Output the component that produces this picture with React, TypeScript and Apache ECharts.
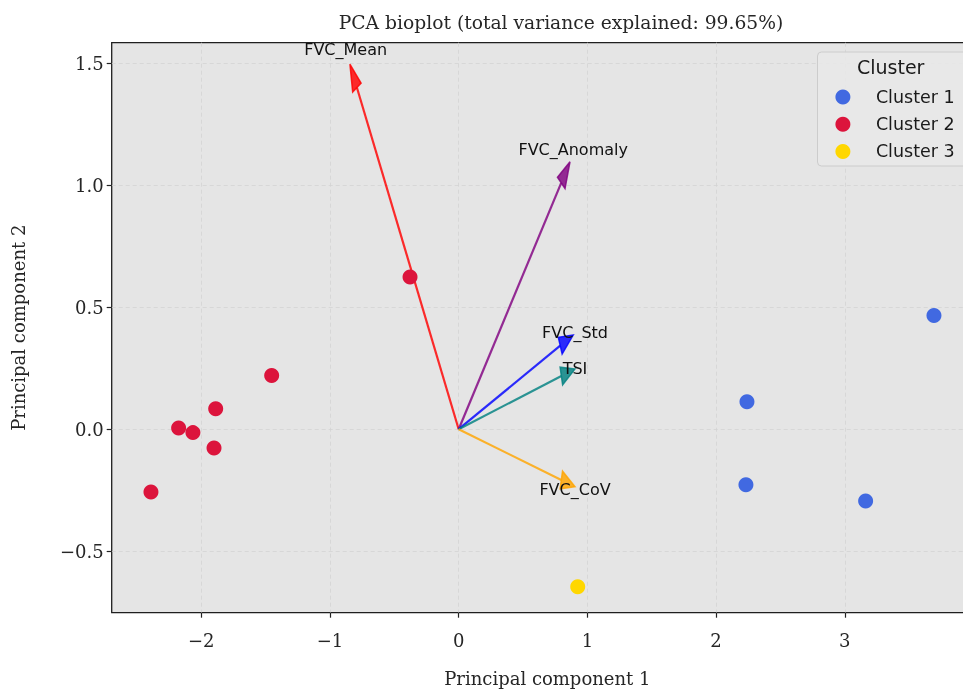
import React, { useEffect, useRef } from "react";
import * as echarts from "echarts";

const chartTitle = "PCA bioplot (total variance explained: 99.65%)";
const xAxisTitle = "Principal component 1";
const yAxisTitle = "Principal component 2";
const legendTitle = "Cluster";

const clusterNames = ["Cluster 1", "Cluster 2", "Cluster 3"];
const clusterColors = ["#4169e1", "#dc143c", "#ffd700"];

const cluster1PC1 = [3.693, 2.24, 2.232, 3.162];
const cluster1PC2 = [0.466, 0.113, -0.228, -0.294];
const cluster2PC1 = [-0.378, -1.453, -1.888, -2.176, -2.065, -1.901, -2.391];
const cluster2PC2 = [0.624, 0.22, 0.084, 0.005, -0.014, -0.077, -0.257];
const cluster3PC1 = [0.925];
const cluster3PC2 = [-0.646];

const loadingNames = ["FVC_Mean", "FVC_Anomaly", "FVC_Std", "TSI", "FVC_CoV"];
const loadingPC1 = [-0.845, 0.865, 0.89, 0.904, 0.904];
const loadingPC2 = [1.496, 1.096, 0.386, 0.247, -0.236];
const labelPC1 = [-0.878, 0.89, 0.904, 0.904, 0.904];
const labelPC2 = [1.558, 1.145, 0.396, 0.247, -0.246];
const loadingColors = ["#ff0000", "#800080", "#0000ff", "#008080", "#ffa500"];

const xTicks = [-2, -1, 0, 1, 2, 3];
const yTicks = [-0.5, 0, 0.5, 1, 1.5];

const HEAD_LEN = 0.11;
const HEAD_WIDTH = 0.075;

const serif = "DejaVu Serif";
const sans = "DejaVu Sans";

const fmtX = (v: number) => (v < 0 ? "\u2212" : "") + Math.abs(v).toString();
const fmtY = (v: number) => (v < 0 ? "\u2212" : "") + Math.abs(v).toFixed(1);

export default function App() {
  const ref = useRef<HTMLDivElement>(null);
  useEffect(() => {
    if (!ref.current) return;
    const chart = echarts.init(ref.current, undefined, { renderer: "svg" });
    const clusters = [
      [cluster1PC1, cluster1PC2],
      [cluster2PC1, cluster2PC2],
      [cluster3PC1, cluster3PC2],
    ];
    const scatterSeries = clusters.map(([xs, ys], k) => ({
      type: "scatter",
      name: clusterNames[k],
      data: xs.map((x, i) => [x, ys[i]]),
      symbolSize: 15,
      itemStyle: { color: clusterColors[k], opacity: 1 },
      z: 4,
    }));
    const arrowSeries = {
      type: "custom",
      name: "loadings",
      z: 3,
      data: loadingNames.map((n, i) => ({
        name: n,
        value: [loadingPC1[i], loadingPC2[i], labelPC1[i], labelPC2[i]],
      })),
      renderItem: (params: any, api: any) => {
        const i = params.dataIndex;
        const tx = api.value(0);
        const ty = api.value(1);
        const lx = api.value(2);
        const ly = api.value(3);
        const color = loadingColors[i];
        const len = Math.hypot(tx, ty);
        const ux = tx / len;
        const uy = ty / len;
        const bx = tx - HEAD_LEN * ux;
        const by = ty - HEAD_LEN * uy;
        const hw = HEAD_WIDTH / 2;
        const o = api.coord([0, 0]);
        const b = api.coord([bx, by]);
        const t = api.coord([tx, ty]);
        const c1 = api.coord([bx - hw * uy, by + hw * ux]);
        const c2 = api.coord([bx + hw * uy, by - hw * ux]);
        const lp = api.coord([lx, ly]);
        return {
          type: "group",
          children: [
            {
              type: "line",
              shape: { x1: o[0], y1: o[1], x2: b[0], y2: b[1] },
              style: { stroke: color, lineWidth: 2.2, opacity: 0.82 },
            },
            {
              type: "polygon",
              shape: { points: [t, c1, c2] },
              style: { fill: color, stroke: color, lineWidth: 1.5, opacity: 0.82, lineJoin: "miter" },
            },
            {
              type: "text",
              x: lp[0],
              y: lp[1],
              z2: 10,
              style: {
                text: loadingNames[i],
                fontSize: 16,
                fontFamily: sans,
                fill: "#111111",
                align: "center",
                verticalAlign: "middle",
              },
            },
          ],
        };
      },
    };
    chart.setOption({
      animation: false,
      title: {
        text: chartTitle,
        left: 556,
        top: 8,
        textAlign: "center",
        textStyle: { fontFamily: serif, fontSize: 18.7, fontWeight: "normal", color: "#262626" },
      },
      grid: {
        left: 111.7,
        right: -20,
        top: 42.7,
        bottom: 78.3,
        show: true,
        backgroundColor: "#e5e5e5",
        borderColor: "#1f1f1f",
        borderWidth: 1.3,
        containLabel: false,
        outerBoundsMode: "none",
      },
      legend: {
        data: clusterNames,
        orient: "vertical",
        left: 835.4,
        top: 88,
        padding: 0,
        itemWidth: 56,
        itemHeight: 15,
        itemGap: 9.2,
        icon: "circle",
        z: 10,
        textStyle: { fontFamily: sans, fontSize: 17.5, color: "#1a1a1a" },
      },
      graphic: [
        {
          type: "rect",
          z: 5,
          shape: { x: 817.5, y: 52, width: 170, height: 114, r: 4 },
          style: { fill: "rgba(233,233,233,0.85)", stroke: "#cccccc", lineWidth: 1 },
        },
        {
          type: "text",
          z: 6,
          x: 890.7,
          y: 67.3,
          style: {
            text: legendTitle,
            fontSize: 19,
            fontFamily: sans,
            fill: "#1a1a1a",
            align: "center",
            verticalAlign: "middle",
          },
        },
      ],
      xAxis: {
        type: "value",
        min: -2.696,
        max: 4.074,
        name: xAxisTitle,
        nameLocation: "middle",
        nameGap: 57,
        nameTextStyle: { fontFamily: serif, fontSize: 18, color: "#262626" },
        axisLine: { show: false, onZero: false },
        axisTick: { show: true, customValues: xTicks, length: 5, lineStyle: { color: "#222", width: 1.2 } },
        axisLabel: {
          customValues: xTicks,
          formatter: fmtX,
          margin: 19,
          fontFamily: serif,
          fontSize: 18,
          color: "#262626",
        },
        splitLine: { show: true, lineStyle: { color: "#d3d3d3", type: [4, 3], width: 0.8 } },
      },
      yAxis: {
        type: "value",
        min: -0.752,
        max: 1.584,
        name: yAxisTitle,
        nameLocation: "middle",
        nameGap: 84,
        nameTextStyle: { fontFamily: serif, fontSize: 18, color: "#262626" },
        axisLine: { show: false, onZero: false },
        axisTick: { show: true, customValues: yTicks, length: 5, lineStyle: { color: "#222", width: 1.2 } },
        axisLabel: {
          customValues: yTicks,
          formatter: fmtY,
          margin: 8,
          fontFamily: serif,
          fontSize: 18,
          color: "#262626",
        },
        splitLine: { show: true, lineStyle: { color: "#d3d3d3", type: [4, 3], width: 0.8 } },
      },
      series: [arrowSeries, ...scatterSeries],
    });
    return () => chart.dispose();
  }, []);
  return <div ref={ref} style={{ position: "fixed", left: 0, top: 0, width: 963, height: 691 }} />;
}
